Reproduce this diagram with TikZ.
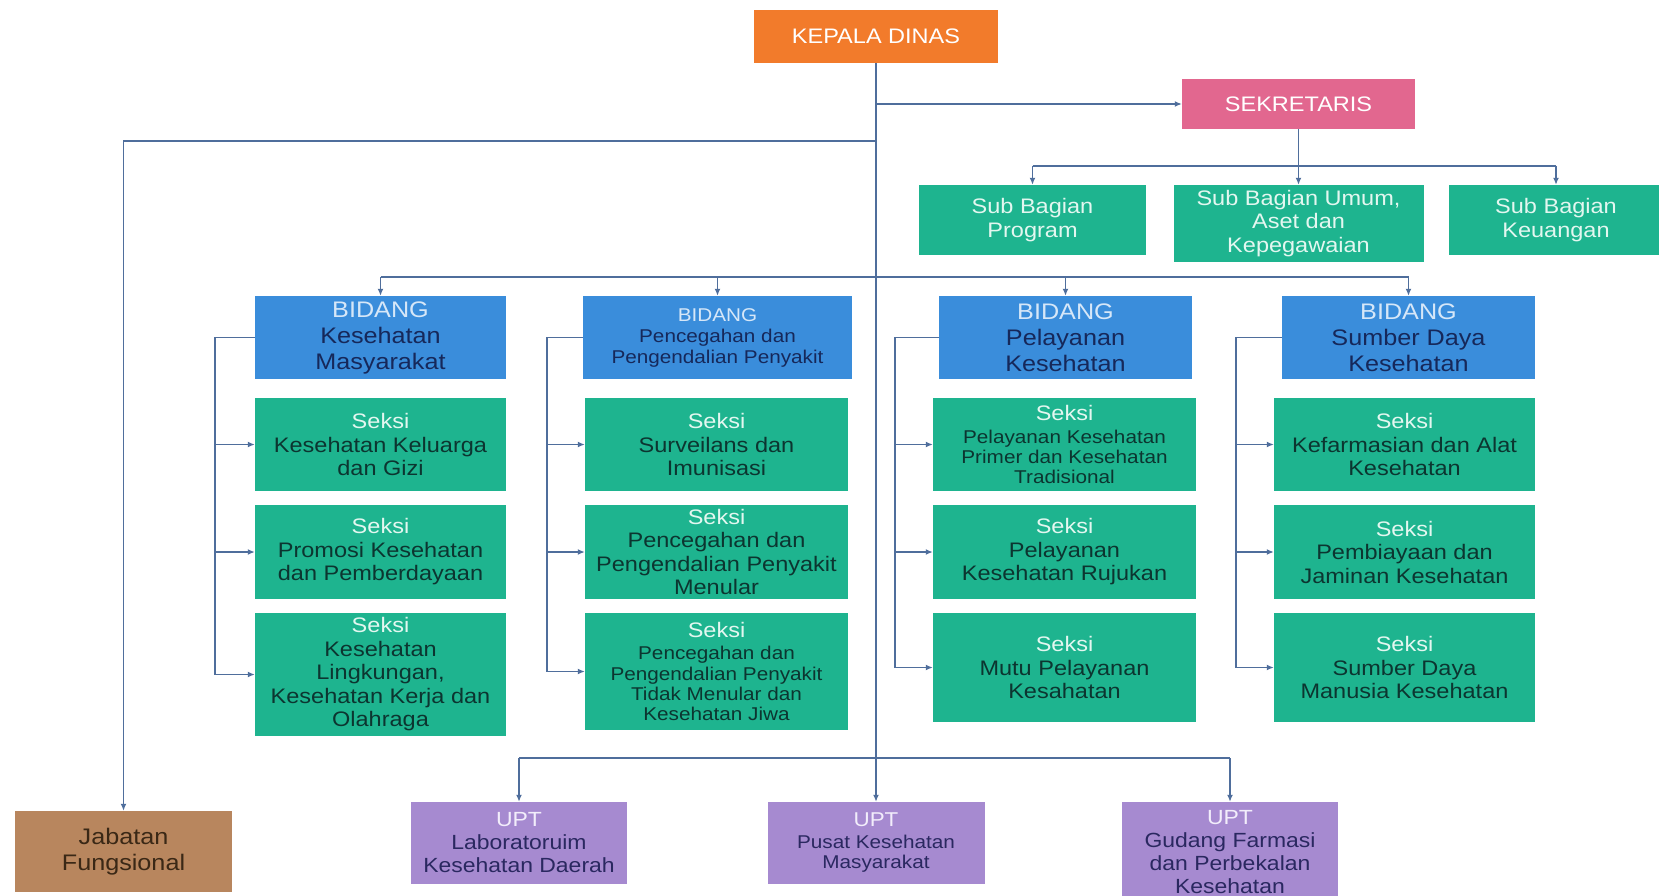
\documentclass[tikz,border=0pt]{standalone}
\usepackage{fontspec}
\setmainfont{Liberation Sans}[FakeStretch=1.12]
\usetikzlibrary{arrows.meta}
\definecolor{orng}{HTML}{F27B2B}
\definecolor{pnk}{HTML}{E2678F}
\definecolor{teal}{HTML}{1EB48F}
\definecolor{blu}{HTML}{3A8DDB}
\definecolor{purp}{HTML}{A68AD0}
\definecolor{brwn}{HTML}{B8865E}
\definecolor{lnc}{HTML}{4F6E9C}
\definecolor{hdr}{HTML}{E3F7F0}
\definecolor{hdrb}{HTML}{D6E7F8}
\definecolor{hdru}{HTML}{F2EDFB}
\definecolor{dkt}{HTML}{0C3530}
\definecolor{dkb}{HTML}{16285A}
\definecolor{dku}{HTML}{2A2860}
\definecolor{dkj}{HTML}{3A2816}
\tikzset{
  bx/.style={inner sep=1pt, align=center, font=\fontsize{21}{23.5}\selectfont},
  top/.style={bx, fill=orng, text=white},
  sekb/.style={bx, fill=pnk, text=white},
  subb/.style={bx, fill=teal, text=hdr},
  bid/.style={bx, fill=blu, text=dkb, font=\fontsize{22.5}{26}\selectfont},
  bidsm/.style={bx, fill=blu, text=dkb, font=\fontsize{18.5}{21}\selectfont},
  sek/.style={bx, fill=teal, text=dkt},
  seksm/.style={bx, fill=teal, text=dkt, font=\fontsize{18.5}{20.3}\selectfont},
  upt/.style={bx, fill=purp, text=dku, font=\fontsize{20.5}{23}\selectfont},
  uptsm/.style={bx, fill=purp, text=dku, font=\fontsize{18.5}{20.5}\selectfont},
  jab/.style={bx, fill=brwn, text=dkj, font=\fontsize{22.5}{26.5}\selectfont},
  ln/.style={draw=lnc, line width=1.4pt},
  arr/.style={-{Latex[length=7pt,width=6pt]}}
}
\newcommand{\sk}{{\fontsize{21}{23}\selectfont\textcolor{hdr}{Seksi}}}
\begin{document}
\begin{tikzpicture}[x=1pt,y=-1pt]
\fill[white] (0,0) rectangle (1659,896);
\useasboundingbox (0,0) rectangle (1659,896);

% top
\node[top, minimum width=244, minimum height=53] (kd) at (876,36.5) {KEPALA DINAS};
\node[sekb, minimum width=233, minimum height=50] (sek) at (1298.5,104) {SEKRETARIS};
\node[subb, minimum width=227, minimum height=70] (sb1) at (1032.5,220) {Sub Bagian\\Program};
\node[subb, minimum width=250, minimum height=77] (sb2) at (1298.5,223.5) {Sub Bagian Umum,\\Aset dan\\Kepegawaian};
\node[subb, minimum width=214, minimum height=70] (sb3) at (1556,220) {Sub Bagian\\Keuangan};

% bidang
\node[bid, minimum width=251, minimum height=83] (b1) at (380.5,337.5) {\textcolor{hdrb}{BIDANG}\\Kesehatan\\Masyarakat};
\node[bidsm, minimum width=269, minimum height=83] (b2) at (717.5,337.5) {\textcolor{hdrb}{BIDANG}\\Pencegahan dan\\Pengendalian Penyakit};
\node[bid, minimum width=253, minimum height=83] (b3) at (1065.5,337.5) {\textcolor{hdrb}{BIDANG}\\Pelayanan\\Kesehatan};
\node[bid, minimum width=253, minimum height=83] (b4) at (1408.5,337.5) {\textcolor{hdrb}{BIDANG}\\Sumber Daya\\Kesehatan};

% seksi col 1
\node[sek, minimum width=251, minimum height=93] (s11) at (380.5,444.5) {\sk\\Kesehatan Keluarga\\dan Gizi};
\node[sek, minimum width=251, minimum height=94] (s12) at (380.5,552) {\sk\\Promosi Kesehatan\\dan Pemberdayaan};
\node[sek, minimum width=251, minimum height=123] (s13) at (380.5,674.5) {\sk\\Kesehatan\\Lingkungan,\\Kesehatan Kerja dan\\Olahraga};
% col 2
\node[sek, minimum width=263, minimum height=93] (s21) at (716.5,444.5) {\sk\\Surveilans dan\\Imunisasi};
\node[sek, minimum width=263, minimum height=94] (s22) at (716.5,552) {\sk\\Pencegahan dan\\Pengendalian Penyakit\\Menular};
\node[seksm, minimum width=263, minimum height=117] (s23) at (716.5,671.5) {\sk\\[2pt]Pencegahan dan\\Pengendalian Penyakit\\Tidak Menular dan\\Kesehatan Jiwa};
% col 3
\node[seksm, minimum width=263, minimum height=93] (s31) at (1064.5,444.5) {\sk\\[3pt]Pelayanan Kesehatan\\Primer dan Kesehatan\\Tradisional};
\node[sek, minimum width=263, minimum height=94] (s32) at (1064.5,552) {\sk\\Pelayanan\\Kesehatan Rujukan};
\node[sek, minimum width=263, minimum height=109] (s33) at (1064.5,667.5) {\sk\\Mutu Pelayanan\\Kesahatan};
% col 4
\node[sek, minimum width=261, minimum height=93] (s41) at (1404.5,444.5) {\sk\\Kefarmasian dan Alat\\Kesehatan};
\node[sek, minimum width=261, minimum height=94] (s42) at (1404.5,552) {\sk\\Pembiayaan dan\\Jaminan Kesehatan};
\node[sek, minimum width=261, minimum height=109] (s43) at (1404.5,667.5) {\sk\\Sumber Daya\\Manusia Kesehatan};

% bottom
\node[jab, minimum width=217, minimum height=81] (jf) at (123.5,851.5) {Jabatan\\Fungsional};
\node[upt, minimum width=216, minimum height=82] (u1) at (519,843) {\textcolor{hdru}{UPT}\\Laboratoruim\\Kesehatan Daerah};
\node[uptsm, minimum width=217, minimum height=82] (u2) at (876,843) {{\fontsize{20}{22}\selectfont\textcolor{hdru}{UPT}}\\[1pt]Pusat Kesehatan\\Masyarakat};
\node[upt, minimum width=216, minimum height=100] (u3) at (1230,852) {\textcolor{hdru}{UPT}\\Gudang Farmasi\\dan Perbekalan\\Kesehatan};

% coordinates
\coordinate (jt) at (876,141);
\coordinate (bt) at (876,277);
\coordinate (ut) at (876,758);
\coordinate (sbus) at (1298.5,166);
\coordinate (c1) at (215,0);
\coordinate (c2) at (547,0);
\coordinate (c3) at (895,0);
\coordinate (c4) at (1236,0);

% connectors
\draw[ln,arr] (kd.south) -- (u2.north);
\draw[ln,arr] (kd.south |- sek.west) -- (sek.west);
\draw[ln,arr] (jt) -| (jf.north);

\draw[ln] (sek.south) -- (sbus);
\draw[ln] (sb1.north |- sbus) -- (sb3.north |- sbus);
\draw[ln,arr] (sb1.north |- sbus) -- (sb1.north);
\draw[ln,arr] (sbus) -- (sb2.north);
\draw[ln,arr] (sb3.north |- sbus) -- (sb3.north);

\draw[ln] (b1.north |- bt) -- (b4.north |- bt);
\foreach \b in {b1,b2,b3,b4} \draw[ln,arr] (\b.north |- bt) -- (\b.north);

\draw[ln] (u1.north |- ut) -- (u3.north |- ut);
\draw[ln,arr] (u1.north |- ut) -- (u1.north);
\draw[ln,arr] (u3.north |- ut) -- (u3.north);

% brackets
\draw[ln] (b1.west) -- (b1.west -| c1) -- (s13.west -| c1);
\draw[ln,arr] (s11.west -| c1) -- (s11.west);
\draw[ln,arr] (s12.west -| c1) -- (s12.west);
\draw[ln,arr] (s13.west -| c1) -- (s13.west);

\draw[ln] (b2.west) -- (b2.west -| c2) -- (s23.west -| c2);
\draw[ln,arr] (s21.west -| c2) -- (s21.west);
\draw[ln,arr] (s22.west -| c2) -- (s22.west);
\draw[ln,arr] (s23.west -| c2) -- (s23.west);

\draw[ln] (b3.west) -- (b3.west -| c3) -- (s33.west -| c3);
\draw[ln,arr] (s31.west -| c3) -- (s31.west);
\draw[ln,arr] (s32.west -| c3) -- (s32.west);
\draw[ln,arr] (s33.west -| c3) -- (s33.west);

\draw[ln] (b4.west) -- (b4.west -| c4) -- (s43.west -| c4);
\draw[ln,arr] (s41.west -| c4) -- (s41.west);
\draw[ln,arr] (s42.west -| c4) -- (s42.west);
\draw[ln,arr] (s43.west -| c4) -- (s43.west);
\end{tikzpicture}
\end{document}
